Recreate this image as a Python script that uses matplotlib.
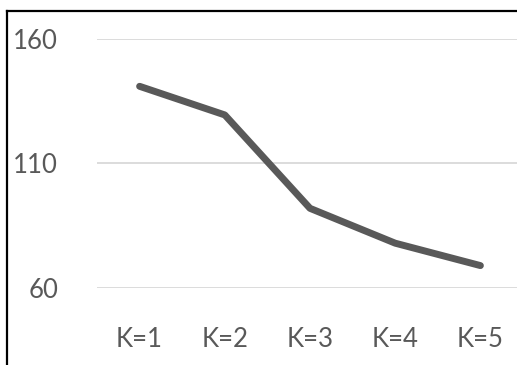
import matplotlib.pyplot as plt
from matplotlib.lines import Line2D

labels = ['K=1', 'K=2', 'K=3', 'K=4', 'K=5']
values = [141, 129.5, 92, 78, 69]
yticks = [60, 110, 160]

fig = plt.figure(figsize=(5.17, 3.65), dpi=100)
ax = fig.add_axes([97 / 517, 77 / 365, 426 / 517, 249 / 365])

x = list(range(len(labels)))
ax.plot(x, values, color='#595959', lw=5, solid_capstyle='round',
        solid_joinstyle='round', zorder=3)

ax.set_xlim(-0.5, 4.5)
ax.set_ylim(60, 160)
ax.set_xticks(x)
ax.set_xticklabels(labels)
ax.set_yticks(yticks)
ax.yaxis.grid(True, color='#d9d9d9', lw=1.3)
ax.set_axisbelow(True)
for s in ax.spines.values():
    s.set_visible(False)
ax.tick_params(length=0, pad=28, labelsize=18.5, labelcolor='#595959')
for t in ax.get_xticklabels() + ax.get_yticklabels():
    t.set_fontfamily('Lato')
    t.set_fontweight('normal')

# outer frame (top and left edges only)
fig.add_artist(Line2D([7 / 517, 1.01], [1 - 11 / 365] * 2, color='black', lw=1.6,
                      transform=fig.transFigure))
fig.add_artist(Line2D([7 / 517] * 2, [-0.01, 1 - 11 / 365], color='black', lw=1.6,
                      transform=fig.transFigure))

fig.savefig('out.png', dpi=100)
